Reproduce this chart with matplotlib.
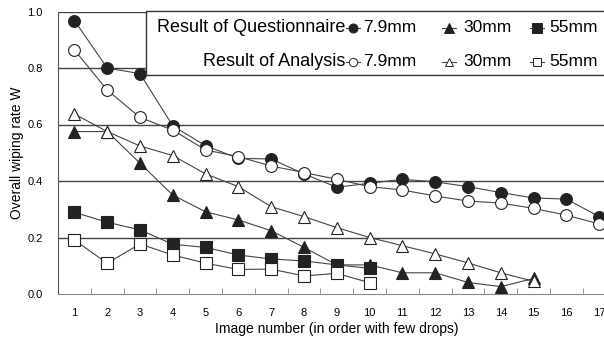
import matplotlib
matplotlib.use("Agg")
import matplotlib.pyplot as plt
from matplotlib.lines import Line2D
from matplotlib.patches import Rectangle

plt.rcParams['font.family'] = ['Liberation Sans', 'DejaVu Sans']

images = list(range(1, 18))

# questionnaire results
q_79 = [0.968, 0.80, 0.78, 0.595, 0.525, 0.48, 0.478, 0.425, 0.378, 0.392,
        0.406, 0.397, 0.38, 0.359, 0.34, 0.336, 0.274]
q_30 = [0.575, 0.575, 0.463, 0.35, 0.291, 0.262, 0.224, 0.165, 0.103, 0.103,
        0.075, 0.075, 0.041, 0.026, 0.055]
q_55 = [0.289, 0.254, 0.227, 0.176, 0.165, 0.138, 0.124, 0.117, 0.103, 0.091]

# analysis results
a_79 = [0.864, 0.722, 0.625, 0.58, 0.51, 0.486, 0.453, 0.43, 0.406, 0.38,
        0.368, 0.347, 0.329, 0.322, 0.303, 0.279, 0.248]
a_30 = [0.637, 0.575, 0.524, 0.49, 0.425, 0.38, 0.309, 0.274, 0.235, 0.2,
        0.171, 0.142, 0.11, 0.075, 0.045]
a_55 = [0.191, 0.109, 0.177, 0.138, 0.109, 0.087, 0.088, 0.064, 0.073, 0.04]

sizes = ["7.9mm", "30mm", "55mm"]
markers = ["o", "^", "s"]

W, H = 604, 339
fig = plt.figure(figsize=(W / 100, H / 100), dpi=100)
# axes run past the right edge of the figure on purpose
ax = fig.add_axes([58 / W, 45 / H, 557.6 / W, 282.5 / H])

line_kw = dict(color="#444444", lw=0.8, ms=8.5, mew=0.8, mec="#222222")
for vals, m in zip([q_79, q_30, q_55], markers):
    ax.plot(images[:len(vals)], vals, marker=m, mfc="#222222", zorder=3, **line_kw)
for vals, m in zip([a_79, a_30, a_55], markers):
    ax.plot(images[:len(vals)], vals, marker=m, mfc="white", zorder=4, **line_kw)

ax.set_xlim(0.5, 17.5)
ax.set_ylim(0, 1.0)
ax.set_yticks([0.0, 0.2, 0.4, 0.6, 0.8, 1.0])
ax.set_yticklabels(["0.0", "0.2", "0.4", "0.6", "0.8", "1.0"])
ax.set_xticks(images)
ax.set_xticks([i + 0.5 for i in range(0, 17)], minor=True)
ax.tick_params(axis="x", which="major", length=0, pad=10, labelsize=8)
ax.tick_params(axis="x", which="minor", length=4, direction="in", color="#888888")
ax.tick_params(axis="y", length=0, pad=11, labelsize=8)
for y in [0.2, 0.4, 0.6, 0.8, 1.0]:
    ax.axhline(y, color="#444444", lw=1.0, zorder=1)

ax.spines["top"].set_visible(False)
ax.spines["right"].set_visible(False)
ax.spines["left"].set_color("#555555")
ax.spines["bottom"].set_color("#888888")

ax.set_xlabel("Image number (in order with few drops)", fontsize=10, labelpad=3)
ax.set_ylabel("Overall wiping rate W", fontsize=10)
ax.yaxis.set_label_coords(-34 / 557.6, 0.5)

# legend box drawn by hand: two rows, three sizes each
fig.add_artist(Rectangle((146 / W, (H - 75) / H), 470 / W, 64 / H,
                         transform=fig.transFigure, facecolor="white",
                         edgecolor="#333333", lw=1.0, zorder=5))
rows = [("Result of Questionnaire", "#222222", 28),
        ("Result of Analysis", "white", 62)]
cols = [353, 449, 537]
label_off = [10, 14, 12]
for text, fill, ypx in rows:
    yf = (H - ypx) / H
    fig.text(345 / W, yf, text, ha="right", va="center", fontsize=13, zorder=6)
    for cx, off, m, s in zip(cols, label_off, markers, sizes):
        fig.add_artist(Line2D([(cx - 7) / W, (cx + 7) / W], [yf, yf],
                              transform=fig.transFigure, color="#444444", lw=0.8,
                              zorder=6))
        fig.add_artist(Line2D([cx / W], [yf], transform=fig.transFigure,
                              marker=m, ms=6.5 if fill != "white" else 6,
                              mfc=fill, mec="#222222", mew=0.7, zorder=7))
        fig.text((cx + off) / W, yf, s, ha="left", va="center", fontsize=12.5, zorder=6)

fig.savefig("out.png", dpi=100)
